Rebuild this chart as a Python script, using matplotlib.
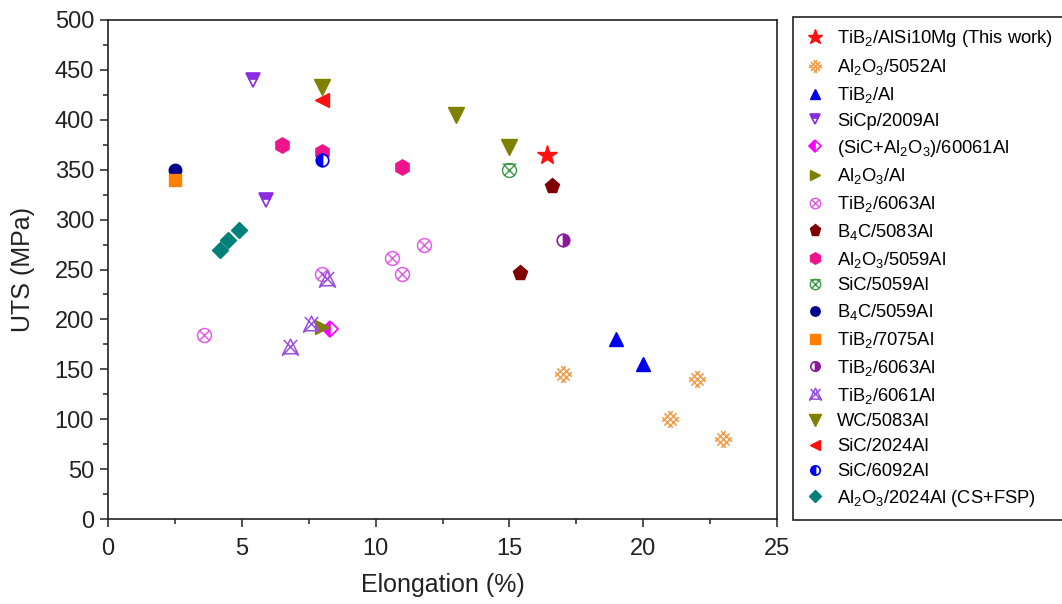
import numpy as np
import matplotlib
matplotlib.use("Agg")
import matplotlib.pyplot as plt
from matplotlib.path import Path

plt.rcParams['font.family'] = ['Liberation Sans', 'DejaVu Sans']
plt.rcParams['mathtext.fontset'] = 'custom'
plt.rcParams['mathtext.rm'] = 'Liberation Sans'
plt.rcParams['mathtext.it'] = 'Liberation Sans'
plt.rcParams['mathtext.default'] = 'regular'

# ---------------- data ----------------
labels = [
    r'TiB$_2$/AlSi10Mg (This work)',
    r'Al$_2$O$_3$/5052Al',
    r'TiB$_2$/Al',
    r'SiCp/2009Al',
    r'(SiC+Al$_2$O$_3$)/60061Al',
    r'Al$_2$O$_3$/Al',
    r'TiB$_2$/6063Al',
    r'B$_4$C/5083Al',
    r'Al$_2$O$_3$/5059Al',
    r'SiC/5059Al',
    r'B$_4$C/5059Al',
    r'TiB$_2$/7075Al',
    r'TiB$_2$/6063Al',
    r'TiB$_2$/6061Al',
    r'WC/5083Al',
    r'SiC/2024Al',
    r'SiC/6092Al',
    r'Al$_2$O$_3$/2024Al (CS+FSP)',
]

elong = [
    [16.4],
    [17.0, 21.0, 22.0, 23.0],
    [19.0, 20.0],
    [5.4, 5.9],
    [8.3],
    [8.0],
    [3.6, 8.0, 10.6, 11.0, 11.8],
    [16.6, 15.4],
    [6.5, 8.0, 11.0],
    [15.0],
    [2.5],
    [2.5],
    [17.0],
    [8.2, 7.6, 6.8],
    [8.0, 13.0, 15.0],
    [8.0],
    [8.0],
    [4.2, 4.5, 4.9],
]

uts = [
    [365],
    [145, 100, 140, 80],
    [180, 155],
    [440, 320],
    [190],
    [192],
    [184, 245, 262, 245, 275],
    [334, 246],
    [375, 368, 353],
    [350],
    [350],
    [340],
    [280],
    [240, 195, 172],
    [433, 405, 373],
    [420],
    [360],
    [270, 280, 290],
]

xticks = [0, 5, 10, 15, 20, 25]
yticks = [0, 50, 100, 150, 200, 250, 300, 350, 400, 450, 500]

# ---------------- custom markers ----------------
def crosshatch_path():
    verts, codes = [], []
    for c in (-0.7, 0.0, 0.7):
        t = np.sqrt((1 - c * c / 2) / 2)
        verts += [(t + c / 2, -t + c / 2), (-t + c / 2, t + c / 2)]
        codes += [Path.MOVETO, Path.LINETO]
        verts += [(t + c / 2, t - c / 2), (-t + c / 2, -t - c / 2)]
        codes += [Path.MOVETO, Path.LINETO]
    return Path(verts, codes)

def circle_x_path():
    circ = Path.unit_circle()
    d = 0.707
    lines = Path([(-d, -d), (d, d), (-d, d), (d, -d)],
                 [Path.MOVETO, Path.LINETO, Path.MOVETO, Path.LINETO])
    return Path.make_compound_path(circ, lines)

def tri_x_path():
    tri = Path([(0, 1), (-0.9, -0.75), (0.9, -0.75), (0, 1)],
               [Path.MOVETO, Path.LINETO, Path.LINETO, Path.CLOSEPOLY])
    lines = Path([(-1, -1), (0.8, 0.9), (1, -1), (-0.8, 0.9)],
                 [Path.MOVETO, Path.LINETO, Path.MOVETO, Path.LINETO])
    return Path.make_compound_path(tri, lines)

def circle_x_cup_path():
    circ = Path.unit_circle()
    d = 0.707
    lines = Path([(-d, -d), (d, d), (-d, d), (d, -d), (-1, 0.9), (1, 0.9)],
                 [Path.MOVETO, Path.LINETO, Path.MOVETO, Path.LINETO,
                  Path.MOVETO, Path.LINETO])
    return Path.make_compound_path(circ, lines)

styles = [
    dict(marker='*', color='#FF1010', ms=15),
    dict(marker=crosshatch_path(), color='#F0A050', ms=12, mfc='none', mew=1.2),
    dict(marker='^', color='#0000F0', ms=10),
    dict(marker='v', color='#8A2BE2', ms=10, fillstyle='top', mfcalt='white', mew=1.2),
    dict(marker='D', color='#FF00FF', ms=8, fillstyle='left', mfcalt='white', mew=1.2),
    dict(marker='>', color='#808000', ms=10),
    dict(marker=circle_x_path(), color='#E060E8', ms=10, mfc='none', mew=1.1),
    dict(marker='p', color='#800000', ms=11),
    dict(marker='h', color='#F0148C', ms=11),
    dict(marker=circle_x_cup_path(), color='#3A9A4A', ms=10, mfc='none', mew=1.0),
    dict(marker='o', color='#00008B', ms=9),
    dict(marker='s', color='#FF8000', ms=9),
    dict(marker='o', color='#8B1A9B', ms=9, fillstyle='right', mfcalt='white', mew=1.2),
    dict(marker=tri_x_path(), color='#9A50DC', ms=12, mfc='none', mew=1.1),
    dict(marker='v', color='#808000', ms=11),
    dict(marker='<', color='#FF1010', ms=10),
    dict(marker='o', color='#0000F0', ms=9, fillstyle='left', mfcalt='white', mew=1.2),
    dict(marker='D', color='#00807A', ms=8),
]

fig = plt.figure(figsize=(10.62, 6.04), dpi=100)
ax = fig.add_axes([108 / 1062, 1 - 519 / 604, (777 - 108) / 1062, (519 - 20) / 604])

for lab, xs, ys, st in zip(labels, elong, uts, styles):
    st = dict(st)
    col = st.pop('color')
    kw = dict(linestyle='none', marker=st.pop('marker'), markersize=st.pop('ms'),
              color=col, markeredgecolor=col)
    if 'mfc' in st:
        kw['markerfacecolor'] = st.pop('mfc')
    if 'mfcalt' in st:
        kw['markerfacecoloralt'] = st.pop('mfcalt')
    if 'mew' in st:
        kw['markeredgewidth'] = st.pop('mew')
    if 'fillstyle' in st:
        kw['fillstyle'] = st.pop('fillstyle')
    ax.plot(xs, ys, label=lab, **kw)

ax.set_xlim(0, 25)
ax.set_ylim(0, 500)
ax.set_xticks(xticks)
ax.set_yticks(yticks)
ax.set_xticks(np.arange(2.5, 25, 5), minor=True)
ax.set_yticks(np.arange(25, 500, 50), minor=True)
ax.tick_params(which='both', direction='out', colors='#222222', labelsize=17, width=1.1)
ax.tick_params(which='major', length=6)
ax.tick_params(which='minor', length=3.5)
ax.tick_params(axis='x', pad=8)
ax.tick_params(axis='y', pad=4)
for sp in ax.spines.values():
    sp.set_linewidth(1.2)
    sp.set_color('#222222')

ax.set_xlabel('Elongation (%)', fontsize=18, labelpad=9, color='#222222')
ax.set_ylabel('UTS (MPa)', fontsize=18, labelpad=14, color='#222222')

leg = fig.legend(loc='upper left', bbox_to_anchor=(793 / 1062, 1 - 17 / 604),
                 fontsize=13.2, frameon=True, fancybox=False, framealpha=1,
                 edgecolor='#222222', markerscale=0.75, handlelength=1.2,
                 handletextpad=0.6, labelspacing=0.425, borderpad=0.62,
                 borderaxespad=0)
leg.get_frame().set_linewidth(1.2)

fig.savefig('out.png', dpi=100)
